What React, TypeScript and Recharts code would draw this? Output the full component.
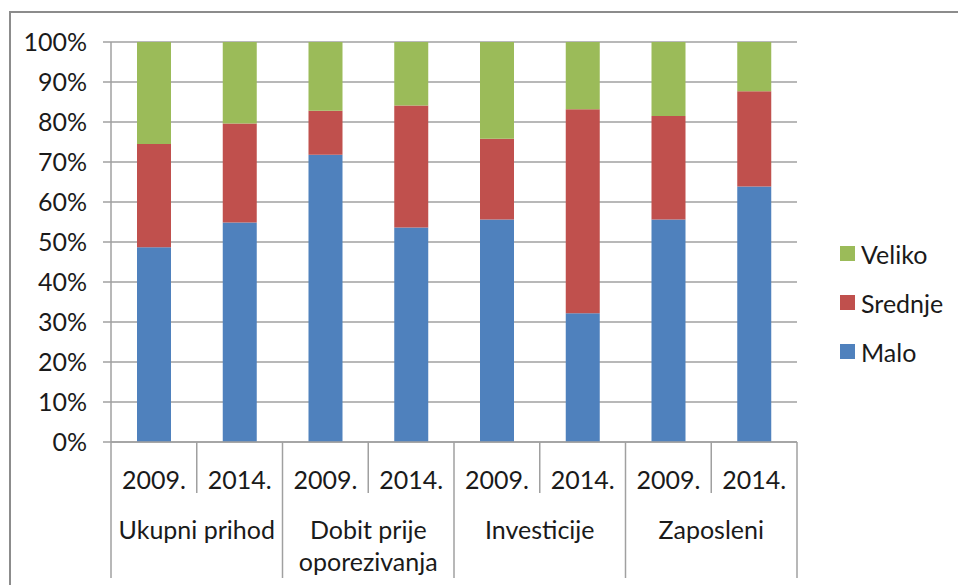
import { BarChart, Bar, XAxis, YAxis, CartesianGrid, Legend } from 'recharts';

const years = ['2009.', '2014.', '2009.', '2014.', '2009.', '2014.', '2009.', '2014.'];
const groups = ['Ukupni prihod', 'Dobit prije\noporezivanja', 'Investicije', 'Zaposleni'];
const malo = [48.7, 54.9, 71.8, 53.6, 55.6, 32.2, 55.6, 63.9];
const srednje = [25.8, 24.7, 11.0, 30.5, 20.2, 51.0, 25.9, 23.8];
const veliko = [25.5, 20.4, 17.2, 15.9, 24.2, 16.8, 18.5, 12.3];
const yTicks = [0, 0.1, 0.2, 0.3, 0.4, 0.5, 0.6, 0.7, 0.8, 0.9, 1];

const series = [
  { key: 'malo', name: 'Malo', color: '#4F81BD' },
  { key: 'srednje', name: 'Srednje', color: '#C0504D' },
  { key: 'veliko', name: 'Veliko', color: '#9BBB59' },
];

const data = years.map((year, i) => ({
  id: `${i}`,
  year,
  malo: malo[i],
  srednje: srednje[i],
  veliko: veliko[i],
}));

const FONT = "Lato, 'Liberation Sans', sans-serif";
const FS = 25;
const LINE = '#A0A0A0';

const CategoryTick = (props: any) => {
  const { x, y, payload, index } = props;
  const half = payload && payload.offset ? payload.offset : 42.8;
  const i = typeof index === 'number' ? index : Number(payload.value);
  const isGroupStart = i % 2 === 0;
  const lines = isGroupStart ? groups[i / 2].split('\n') : [];
  return (
    <g>
      <line x1={x - half} x2={x - half} y1={y} y2={y + (isGroupStart ? 136 : 51)} stroke={LINE} strokeWidth={1.5} />
      {i === years.length - 1 && (
        <line x1={x + half} x2={x + half} y1={y} y2={y + 136} stroke={LINE} strokeWidth={1.5} />
      )}
      <text x={x} y={y + 47} textAnchor="middle" fontSize={FS} fontFamily={FONT} fill="#1a1a1a">
        {years[i]}
      </text>
      {lines.map((t, k) => (
        <text key={k} x={x + half} y={y + 97 + k * 32} textAnchor="middle" fontSize={FS} fontFamily={FONT} fill="#1a1a1a">
          {t}
        </text>
      ))}
    </g>
  );
};

const renderLegend = () => (
  <div style={{ fontFamily: FONT, fontSize: FS, color: '#1a1a1a', width: 118 }}>
    {[...series].reverse().map((s) => (
      <div key={s.key} style={{ display: 'flex', alignItems: 'center', height: 49 }}>
        <span style={{ display: 'inline-block', width: 15, height: 15, background: s.color, marginRight: 6 }} />
        <span>{s.name}</span>
      </div>
    ))}
  </div>
);

export default function App() {
  return (
    <div style={{ position: 'absolute', left: 0, top: 0, width: 958, height: 585, background: '#fff', overflow: 'hidden' }}>
      <div style={{ position: 'absolute', left: 9, top: 11, width: 980, height: 600, border: '2px solid #8C8C8C', boxSizing: 'border-box' }} />
      <BarChart
        width={958}
        height={585}
        data={data}
        stackOffset="expand"
        barSize={34}
        margin={{ top: 42, right: 43, bottom: 7, left: 0 }}
        style={{ position: 'absolute', left: 0, top: 0 }}
      >
        <CartesianGrid vertical={false} stroke={LINE} strokeWidth={1.5} />
        <XAxis
          dataKey="id"
          xAxisId={0}
          height={136}
          interval={0}
          tickLine={false}
          tickSize={0}
          tickMargin={0}
          axisLine={{ stroke: LINE, strokeWidth: 1.5 }}
          tick={<CategoryTick />}
        />
        <YAxis
          width={111}
          domain={[0, 1]}
          ticks={yTicks}
          interval={0}
          tickFormatter={(v: number) => `${Math.round(v * 100)}%`}
          tickSize={8}
          tickMargin={16}
          axisLine={{ stroke: LINE, strokeWidth: 1.5 }}
          tickLine={{ stroke: LINE, strokeWidth: 1.5 }}
          tick={{ fontSize: FS, fontFamily: FONT, fill: '#1a1a1a' }}
        />
        <Legend
          layout="vertical"
          align="right"
          verticalAlign="middle"
          content={renderLegend}
          wrapperStyle={{ position: 'absolute', left: 840, top: 229, width: 118 }}
        />
        {series.map((s) => (
          <Bar key={s.key} dataKey={s.key} name={s.name} stackId="a" fill={s.color} isAnimationActive={false} />
        ))}
      </BarChart>
    </div>
  );
}
